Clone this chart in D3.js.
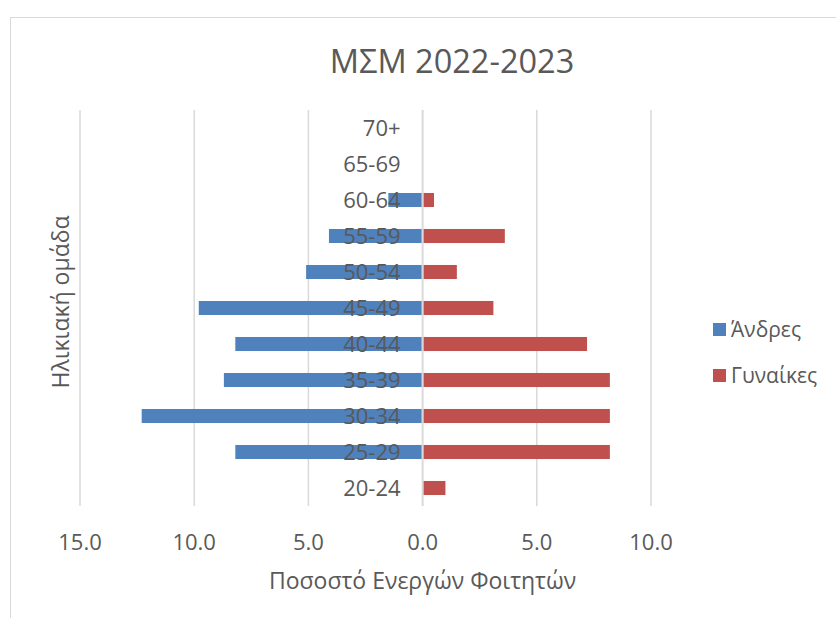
<!DOCTYPE html>
<html>
<head>
<meta charset="utf-8">
<script src="https://cdn.jsdelivr.net/npm/d3@7"></script>
<style>
  body { margin: 0; background: #fff; }
  text { font-family: "Open Sans", sans-serif; fill: #595959; }
</style>
</head>
<body>
<div id="wrapper"></div>
<script>
// age groups, bottom to top
const ageGroups = ["20-24", "25-29", "30-34", "35-39", "40-44", "45-49", "50-54", "55-59", "60-64", "65-69", "70+"]
const men = [0, 8.2, 12.3, 8.7, 8.2, 9.8, 5.1, 4.1, 1.5, 0, 0]
const women = [1.0, 8.2, 8.2, 8.2, 7.2, 3.1, 1.5, 3.6, 0.5, 0, 0]
const xTicks = [-15, -10, -5, 0, 5, 10]
const seriesNames = ["Άνδρες", "Γυναίκες"]
const seriesColors = ["#4F81BD", "#C0504D"]

const dimensions = {
    width: 836,
    height: 618,
    margin: { top: 110, right: 185, bottom: 112, left: 80 },
}
dimensions.boundedWidth = dimensions.width - dimensions.margin.left - dimensions.margin.right
dimensions.boundedHeight = dimensions.height - dimensions.margin.top - dimensions.margin.bottom

const svg = d3.select("#wrapper")
    .append("svg")
    .attr("width", dimensions.width)
    .attr("height", dimensions.height)

// chart frame
svg.append("rect")
    .attr("x", 10.5).attr("y", 17.5)
    .attr("width", 840).attr("height", 640)
    .attr("fill", "none")
    .attr("stroke", "#D9D9D9")

const bounds = svg.append("g")
    .attr("transform", `translate(${dimensions.margin.left}, ${dimensions.margin.top})`)

const xScale = d3.scaleLinear()
    .domain([-15, 10])
    .range([0, dimensions.boundedWidth])

const yScale = d3.scaleBand()
    .domain(ageGroups.slice().reverse())
    .range([0, dimensions.boundedHeight])
    .paddingInner(0.61)
    .paddingOuter(0.305)

// gridlines
bounds.selectAll(".grid")
    .data(xTicks)
    .enter().append("line")
    .attr("x1", d => xScale(d)).attr("x2", d => xScale(d))
    .attr("y1", 0).attr("y2", dimensions.boundedHeight)
    .attr("stroke", "#D9D9D9")
    .attr("stroke-width", d => d === 0 ? 2 : 1.5)

const rows = ageGroups.map((g, i) => ({ group: g, men: men[i], women: women[i] }))

bounds.selectAll(".men")
    .data(rows.filter(d => d.men > 0))
    .enter().append("rect")
    .attr("x", d => xScale(-d.men))
    .attr("y", d => yScale(d.group))
    .attr("width", d => xScale(0) - 1 - xScale(-d.men))
    .attr("height", yScale.bandwidth())
    .attr("fill", seriesColors[0])

bounds.selectAll(".women")
    .data(rows.filter(d => d.women > 0))
    .enter().append("rect")
    .attr("x", xScale(0) + 1)
    .attr("y", d => yScale(d.group))
    .attr("width", d => xScale(d.women) - xScale(0) - 1)
    .attr("height", yScale.bandwidth())
    .attr("fill", seriesColors[1])

// category labels next to the zero line
bounds.selectAll(".cat")
    .data(ageGroups)
    .enter().append("text")
    .attr("x", xScale(0) - 22)
    .attr("y", d => yScale(d) + yScale.bandwidth() / 2)
    .attr("dy", "0.35em")
    .attr("text-anchor", "end")
    .style("font-size", "22px")
    .text(d => d)

// x tick labels
bounds.selectAll(".tick-label")
    .data(xTicks)
    .enter().append("text")
    .attr("x", d => xScale(d))
    .attr("y", dimensions.boundedHeight + 36)
    .attr("dy", "0.35em")
    .attr("text-anchor", "middle")
    .style("font-size", "22px")
    .text(d => d3.format(".1f")(Math.abs(d)))

// titles
svg.append("text")
    .attr("x", 452).attr("y", 62)
    .attr("dy", "0.35em")
    .attr("text-anchor", "middle")
    .style("font-size", "32.5px")
    .text("ΜΣΜ 2022-2023")

svg.append("text")
    .attr("x", dimensions.margin.left + xScale(0))
    .attr("y", 581)
    .attr("dy", "0.35em")
    .attr("text-anchor", "middle")
    .style("font-size", "23px")
    .text("Ποσοστό Ενεργών Φοιτητών")

svg.append("text")
    .attr("transform", "translate(61, 302) rotate(-90)")
    .attr("dy", "0.35em")
    .attr("text-anchor", "middle")
    .style("font-size", "23px")
    .text("Ηλικιακή ομάδα")

// legend
const legend = svg.append("g")
    .attr("transform", "translate(713, 330)")

const items = legend.selectAll("g")
    .data(seriesNames)
    .enter().append("g")
    .attr("transform", (d, i) => `translate(0, ${i * 46})`)

items.append("rect")
    .attr("x", 0).attr("y", -7)
    .attr("width", 13).attr("height", 13)
    .attr("fill", (d, i) => seriesColors[i])

items.append("text")
    .attr("x", 18)
    .attr("dy", "0.35em")
    .style("font-size", "21px")
    .text(d => d)
</script>
</body>
</html>
